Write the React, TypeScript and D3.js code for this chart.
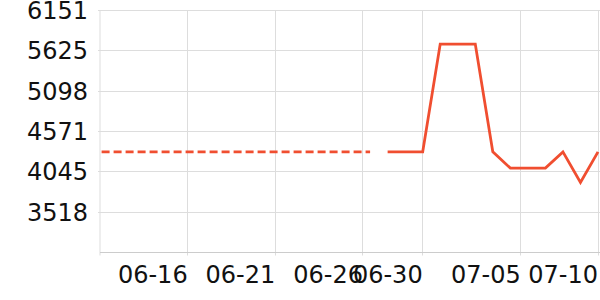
import React from "react";
import * as d3 from "d3";

// ---- data ----
const dashedDates: string[] = [
  "2024-06-11", "2024-06-12", "2024-06-13", "2024-06-14", "2024-06-15", "2024-06-16",
  "2024-06-17", "2024-06-18", "2024-06-19", "2024-06-20", "2024-06-21", "2024-06-22",
  "2024-06-23", "2024-06-24", "2024-06-25", "2024-06-26", "2024-06-27",
];
const dashedValues: number[] = [
  4305, 4305, 4305, 4305, 4305, 4305, 4305, 4305, 4305, 4305, 4305, 4305, 4305, 4305, 4305, 4305, 4305,
];

const solidDates: string[] = [
  "2024-06-28", "2024-06-29", "2024-06-30", "2024-07-01", "2024-07-02", "2024-07-03", "2024-07-04",
  "2024-07-05", "2024-07-06", "2024-07-07", "2024-07-08", "2024-07-09", "2024-07-10",
];
const solidValues: number[] = [4305, 4305, 4305, 5712, 5712, 5712, 4305, 4093, 4093, 4093, 4305, 3905, 4305];

const xDomain: string[] = ["2024-06-11T14:15", "2024-07-10T00:00"];
const xTickDates: string[] = [
  "2024-06-16T14:15", "2024-06-21T14:15", "2024-06-26T14:15", "2024-06-30T00:00", "2024-07-05T14:15", "2024-07-10T00:00",
];
const xTickLabels: string[] = ["06-16", "06-21", "06-26", "06-30", "07-05", "07-10"];

const yDomain: number[] = [2991, 6151];
const yTickValues: number[] = [3518, 4045, 4571, 5098, 5625, 6151];
const yTickLabels: string[] = ["3518", "4045", "4571", "5098", "5625", "6151"];

// ---- layout ----
const W = 600;
const H = 300;
const left = 100;
const right = 598;
const top = 10.5;
const bottom = 252.5;
const FONT = "'DejaVu Sans', sans-serif";
const LINE = "#f04e30";
const GRID = "#dddddd";
const AXIS = "#cccccc";

const parse = (s: string) => new Date(s + (s.includes("T") ? ":00Z" : "T00:00:00Z"));

export default function App() {
  const x = d3.scaleUtc().domain(xDomain.map(parse)).range([left, right]);
  const y = d3.scaleLinear().domain(yDomain).range([bottom, top]);
  const crisp = (v: number) => Math.round(v - 0.5) + 0.5;

  const line = d3
    .line<[Date, number]>()
    .x((d) => x(d[0]))
    .y((d) => y(d[1]));

  const dashedPath = line(dashedDates.map((d, i) => [parse(d), dashedValues[i]] as [Date, number])) || "";
  const solidPath = line(solidDates.map((d, i) => [parse(d), solidValues[i]] as [Date, number])) || "";

  return (
    <svg
      width={W}
      height={H}
      style={{ position: "absolute", left: 0, top: 0, background: "#fff" }}
      xmlns="http://www.w3.org/2000/svg"
    >
      <defs>
        <clipPath id="plotClip">
          <rect x={left} y={0} width={W - left} height={H} />
        </clipPath>
      </defs>
      {/* horizontal grid */}
      {yTickValues.map((v, i) => (
        <line key={"hg" + i} x1={left - 2} x2={W} y1={crisp(y(v))} y2={crisp(y(v))} stroke={GRID} strokeWidth={1} />
      ))}
      {/* vertical grid */}
      <line x1={left} x2={left} y1={top} y2={bottom + 3} stroke={GRID} strokeWidth={1} />
      {xTickDates.map((d, i) => {
        const px = crisp(x(parse(d)));
        return <line key={"vg" + i} x1={px} x2={px} y1={top} y2={bottom + 3} stroke={GRID} strokeWidth={1} />;
      })}
      {/* x axis line */}
      <line x1={left} x2={W} y1={bottom} y2={bottom} stroke={AXIS} strokeWidth={1} />

      {/* series */}
      <g clipPath="url(#plotClip)">
        <path d={dashedPath} fill="none" stroke={LINE} strokeWidth={2.8} strokeDasharray="8 4" />
        <path d={solidPath} fill="none" stroke={LINE} strokeWidth={2.8} />
      </g>

      {/* y labels */}
      {yTickValues.map((v, i) => (
        <text
          key={"yl" + i}
          x={88}
          y={y(v)}
          dy="0.36em"
          textAnchor="end"
          fontFamily={FONT}
          fontSize={24}
          fill="#111"
        >
          {yTickLabels[i]}
        </text>
      ))}
      {/* x labels */}
      {xTickDates.map((d, i) => (
        <text
          key={"xl" + i}
          x={x(parse(d))}
          y={282.5}
          textAnchor="end"
          fontFamily={FONT}
          fontSize={24}
          fill="#111"
        >
          {xTickLabels[i]}
        </text>
      ))}
    </svg>
  );
}
